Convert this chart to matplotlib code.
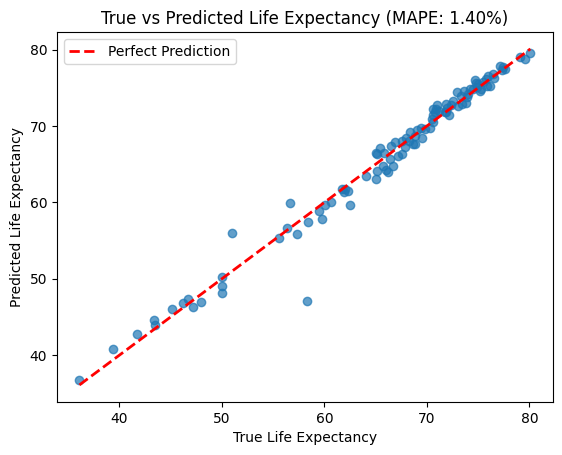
import matplotlib
matplotlib.use("Agg")
import matplotlib.pyplot as plt
import numpy as np

true_vals = [36.1, 39.4, 41.7, 43.4, 43.5, 45.1, 46.2, 46.7, 47.2, 48.0,
             50.0, 50.05, 50.0, 51.0, 58.3,
             55.6, 56.4, 56.6, 57.3, 58.4, 59.5, 59.8, 60.1, 60.6,
             61.7, 61.9, 62.3, 62.5, 64.1, 65.0, 65.1, 65.1,
             65.0, 65.4, 65.8, 65.7, 66.0, 66.2, 66.4, 66.7, 66.5, 66.9,
             67.2, 67.6, 67.6, 68.0, 68.4, 68.6, 68.8, 68.8, 69.5, 69.4,
             69.8, 70.3, 70.5, 70.8, 70.6, 71.9,
             70.6, 71.0, 70.6, 71.8, 71.9, 72.6, 72.9, 73.4, 73.6, 73.9,
             74.2, 74.7, 74.9, 75.2, 75.5, 75.8, 76.2, 76.0, 76.5, 77.1,
             77.3, 77.6, 79.1, 79.6, 80.1,
             72.2, 72.0, 73.0, 73.3, 74.0, 74.5, 75.0, 75.3, 76.6, 77.4,
             67.9, 68.3, 69.0, 71.2, 72.4, 73.8, 74.8, 75.9, 62.0, 70.9]
pred_vals = [36.8, 40.8, 42.8, 44.6, 43.9, 46.0, 46.8, 47.3, 46.3, 46.9,
             50.2, 49.0, 48.1, 56.0, 47.1,
             55.4, 56.6, 59.9, 55.8, 57.4, 58.9, 57.8, 59.7, 60.0,
             61.7, 61.4, 61.5, 59.7, 63.5, 63.1, 66.4, 64.1,
             66.5, 67.1, 66.5, 64.8, 64.3, 64.0, 65.7, 64.8, 67.4, 67.9,
             66.1, 66.3, 68.1, 68.5, 69.2, 67.6, 67.7, 68.7, 68.5, 69.8,
             69.6, 69.7, 70.9, 71.8, 70.5, 71.8,
             72.2, 72.7, 71.4, 71.8, 72.9, 73.3, 74.4, 72.9, 74.6, 73.8,
             74.9, 76.0, 75.1, 74.6, 75.8, 76.2, 75.3, 76.6, 76.8, 77.9,
             77.3, 77.5, 79.0, 78.8, 79.6,
             71.5, 72.3, 72.6, 73.9, 74.2, 74.9, 75.5, 74.9, 76.3, 77.7,
             67.3, 68.0, 69.5, 72.0, 72.8, 73.0, 75.7, 75.2, 61.8, 72.2]

title = "True vs Predicted Life Expectancy (MAPE: 1.40%)"

fig, ax = plt.subplots(figsize=(6.4, 4.8), dpi=100)
ax.scatter(true_vals, pred_vals, alpha=0.7)
lo, hi = min(true_vals), max(true_vals)
ax.plot([lo, hi], [lo, hi], 'r--', lw=2, label='Perfect Prediction')
ax.set_xlabel('True Life Expectancy')
ax.set_ylabel('Predicted Life Expectancy')
ax.set_title(title)
ax.legend(loc='upper left')
fig.savefig('out.png', dpi=100, bbox_inches='tight')
